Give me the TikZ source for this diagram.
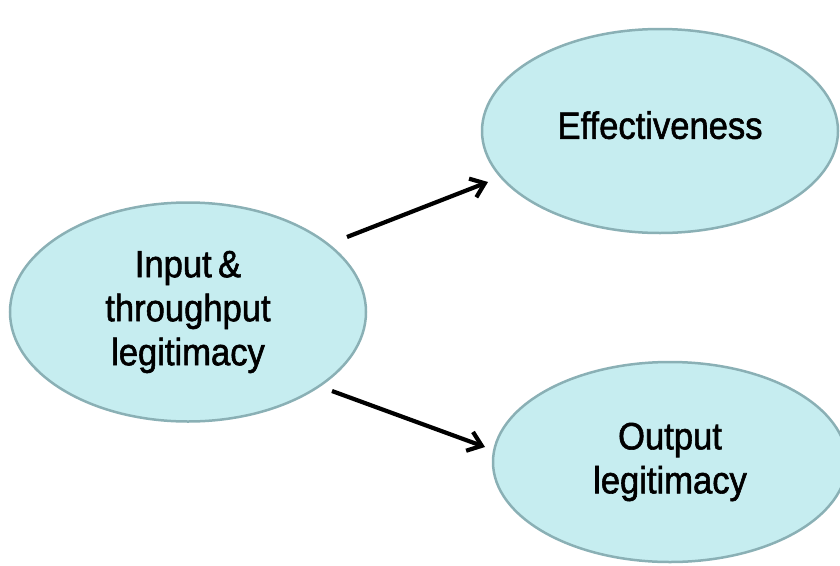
\documentclass[tikz,border=0pt]{standalone}
\usepackage{fontspec}
\setmainfont{Liberation Sans}[FakeStretch=0.91,FakeBold=1.5]
\usetikzlibrary{shapes.geometric,arrows.meta}
\definecolor{bubblefill}{RGB}{198,237,240}
\definecolor{bubblerim}{RGB}{138,176,181}

\begin{document}
\begin{tikzpicture}[x=1pt,y=-1pt,
  bubble/.style={ellipse,draw=bubblerim,fill=bubblefill,line width=2.5pt,inner sep=0pt,
    minimum width=356pt,align=center,font=\fontsize{38}{44}\selectfont},
  link/.style={-{Straight Barb[length=13pt,width=20pt]},line width=4.2pt}]
\useasboundingbox (0,0) rectangle (840,565);
\clip (0,0) rectangle (840,565);
\node[bubble,minimum height=219pt] (input) at (188,312) {Input\,\&\\throughput\\legitimacy};
\node[bubble,minimum height=204pt,text depth=12pt] (effect) at (660,131) {Effectiveness};
\node[bubble,minimum height=200pt,minimum width=354pt] (output) at (670,462) {Output\\legitimacy};
\coordinate (up1) at (347,237);
\coordinate (up2) at (488,182);
\coordinate (dn1) at (332,391);
\coordinate (dn2) at (485,447);
\draw[link] (up1) -- (up2);
\draw[link] (dn1) -- (dn2);
\end{tikzpicture}
\end{document}
